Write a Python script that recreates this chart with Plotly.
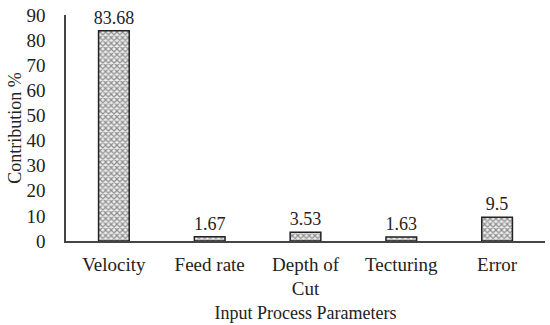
import plotly.graph_objects as go

categories = ["Velocity", "Feed rate", "Depth of<br>Cut", "Tecturing", "Error"]
values = [83.68, 1.67, 3.53, 1.63, 9.5]
value_labels = ["83.68", "1.67", "3.53", "1.63", "9.5"]
y_ticks = [0, 10, 20, 30, 40, 50, 60, 70, 80, 90]

font = "Liberation Serif, Times New Roman, serif"

fig = go.Figure(go.Bar(
    x=categories, y=values, text=value_labels, textposition="outside",
    textfont=dict(family=font, size=18, color="#222"),
    constraintext="none",
    cliponaxis=False,
    marker=dict(color="#ccc", line=dict(color="#222", width=1.5),
                pattern=dict(shape="x", fgcolor="#2a2a2a", bgcolor="#eeeeee", size=4, solidity=0.5)),
))

fig.update_layout(
    width=550, height=325,
    margin=dict(l=66, r=5, t=15, b=84, autoexpand=False),
    paper_bgcolor="white", plot_bgcolor="white",
    bargap=0.68,
    font=dict(family=font, size=18, color="#222"),
    showlegend=False,
)
fig.update_yaxes(range=[0, 90], tickvals=y_ticks, showgrid=False, zeroline=False,
                 automargin=False,
                 showline=True, linecolor="#444", linewidth=1.5,
                 ticks="outside", ticklen=15, tickcolor="rgba(0,0,0,0)",
                 tickfont=dict(size=19),
                 title=dict(text="Contribution %", font=dict(size=18), standoff=0))
fig.update_xaxes(showline=True, linecolor="#444", linewidth=1.5, showgrid=False,
                 automargin=False,
                 ticks="outside", ticklen=5, tickcolor="rgba(0,0,0,0)",
                 tickfont=dict(size=19),
                 title=dict(text="Input Process Parameters", font=dict(size=18), standoff=8))

fig.write_html("out.html", config={"displayModeBar": False},
               post_script="document.body.style.margin='0px';")
